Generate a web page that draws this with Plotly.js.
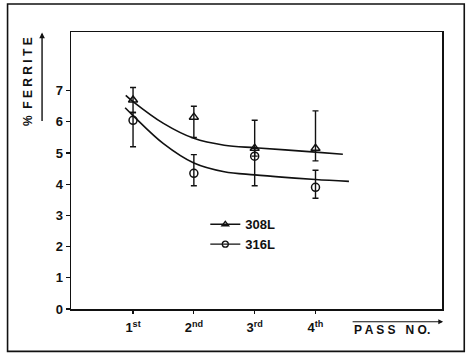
<!DOCTYPE html>
<html><head><meta charset="utf-8">
<script src="https://cdn.plot.ly/plotly-3.0.1.min.js"></script>
<style>html,body{margin:0;padding:0;background:#fff}#chart{width:466px;height:355px}</style>
</head><body><div id="chart"></div>
<script>
// Data
const passes = [1, 2, 3, 4];
const passLabels = ['1<sup>st</sup>', '2<sup>nd</sup>', '3<sup>rd</sup>', '4<sup>th</sup>'];
const ferrite308 = [6.7, 6.15, 5.15, 5.15];
const err308Plus = [0.4, 0.35, 0.9, 1.2];
const err308Minus = [0.4, 0.65, 0.25, 0.4];
const ferrite316 = [6.05, 4.35, 4.9, 3.9];
const err316Plus = [0.25, 0.6, 0.25, 0.55];
const err316Minus = [0.85, 0.4, 0.95, 0.35];
// fitted trend curves
const fitX308 = [0.88, 1, 1.5, 2, 2.5, 3, 3.5, 4, 4.45];
const fitY308 = [6.85, 6.65, 5.95, 5.47, 5.25, 5.17, 5.1, 5.03, 4.96];
const fitX316 = [0.87, 1, 1.5, 2, 2.5, 3, 3.5, 4, 4.55];
const fitY316 = [6.45, 6.2, 5.3, 4.68, 4.4, 4.3, 4.22, 4.15, 4.09];
const seriesNames = ['308L', '316L'];

const blk = '#111';
const traces = [
  {x: fitX308, y: fitY308, mode: 'lines', line: {shape: 'spline', color: blk, width: 1.6}, showlegend: false, hoverinfo: 'skip'},
  {x: fitX316, y: fitY316, mode: 'lines', line: {shape: 'spline', color: blk, width: 1.6}, showlegend: false, hoverinfo: 'skip'},
  {x: passes, y: ferrite308, mode: 'markers', showlegend: false,
   marker: {symbol: 'triangle-up-open', size: 8, color: blk, line: {width: 1.5, color: blk}},
   error_y: {type: 'data', symmetric: false, array: err308Plus, arrayminus: err308Minus, color: blk, thickness: 1.4, width: 3}},
  {x: passes, y: ferrite316, mode: 'markers', showlegend: false,
   marker: {symbol: 'circle-open', size: 8, color: blk, line: {width: 1.5, color: blk}},
   error_y: {type: 'data', symmetric: false, array: err316Plus, arrayminus: err316Minus, color: blk, thickness: 1.4, width: 3}},
  {x: [null], y: [null], name: seriesNames[0], mode: 'lines+markers',
   line: {color: blk, width: 1.4}, marker: {symbol: 'triangle-up-open', size: 6, color: blk, line: {width: 1.3, color: blk}}},
  {x: [null], y: [null], name: seriesNames[1], mode: 'lines+markers',
   line: {color: blk, width: 1.4}, marker: {symbol: 'circle-open', size: 6, color: blk, line: {width: 1.3, color: blk}}}
];

const fam = '"Liberation Sans", Arial, sans-serif';
const layout = {
  width: 466, height: 355,
  margin: {l: 71, r: 24, t: 32, b: 46},
  paper_bgcolor: '#fff', plot_bgcolor: '#fff',
  font: {family: fam, color: blk, size: 12, weight: 'bold'},
  showlegend: true,
  legend: {x: 0.362, y: 0.36, xanchor: 'left', yanchor: 'top', bgcolor: 'rgba(0,0,0,0)', borderwidth: 0,
           font: {family: fam, size: 13, weight: 'bold', color: blk}, tracegroupgap: 0},
  xaxis: {range: [-0.02, 6.08], tickmode: 'array', tickvals: passes, ticktext: passLabels,
          showgrid: false, zeroline: false, showline: true, mirror: true, linecolor: blk, linewidth: 1.5,
          ticks: 'outside', ticklen: 3, tickwidth: 1.2, tickcolor: blk, ticklabelstandoff: 3,
          tickfont: {family: fam, size: 13, weight: 'bold', color: blk}},
  yaxis: {range: [0, 8.88], tickvals: [0,1,2,3,4,5,6,7], showgrid: false, zeroline: false,
          showline: true, mirror: true, linecolor: blk, linewidth: 1.5,
          ticks: 'outside', ticklen: 4, tickwidth: 1.2, tickcolor: blk,
          tickfont: {family: fam, size: 13, weight: 'bold', color: blk}},
  annotations: [
    {text: '%  F E R R I T E', xref: 'paper', yref: 'paper', x: -0.116, y: 0.823, xanchor: 'center', yanchor: 'middle',
     textangle: -90, showarrow: false, font: {family: fam, size: 12, weight: 'bold', color: blk}},
    {text: '', xref: 'paper', yref: 'paper', x: -0.078, y: 0.998, ax: 0, ay: 90, axref: 'pixel', ayref: 'pixel',
     showarrow: true, arrowhead: 2, arrowsize: 0.8, arrowwidth: 1.4, arrowcolor: blk},
    {text: 'P A S S   N O.', xref: 'paper', yref: 'paper', x: 0.865, y: -0.076, xanchor: 'center', yanchor: 'middle',
     showarrow: false, font: {family: fam, size: 12, weight: 'bold', color: blk}},
    {text: '', xref: 'paper', yref: 'paper', x: 1.003, y: -0.046, ax: -92, ay: 0, axref: 'pixel', ayref: 'pixel',
     showarrow: true, arrowhead: 2, arrowsize: 0.8, arrowwidth: 1.2, arrowcolor: blk}
  ],
  shapes: [
    {type: 'rect', xref: 'paper', yref: 'paper', x0: -0.171, x1: 1.06, y0: -0.153, y1: 1.101,
     line: {color: blk, width: 1.6}}
  ]
};
Plotly.newPlot('chart', traces, layout, {displayModeBar: false, staticPlot: true});
</script></body></html>
